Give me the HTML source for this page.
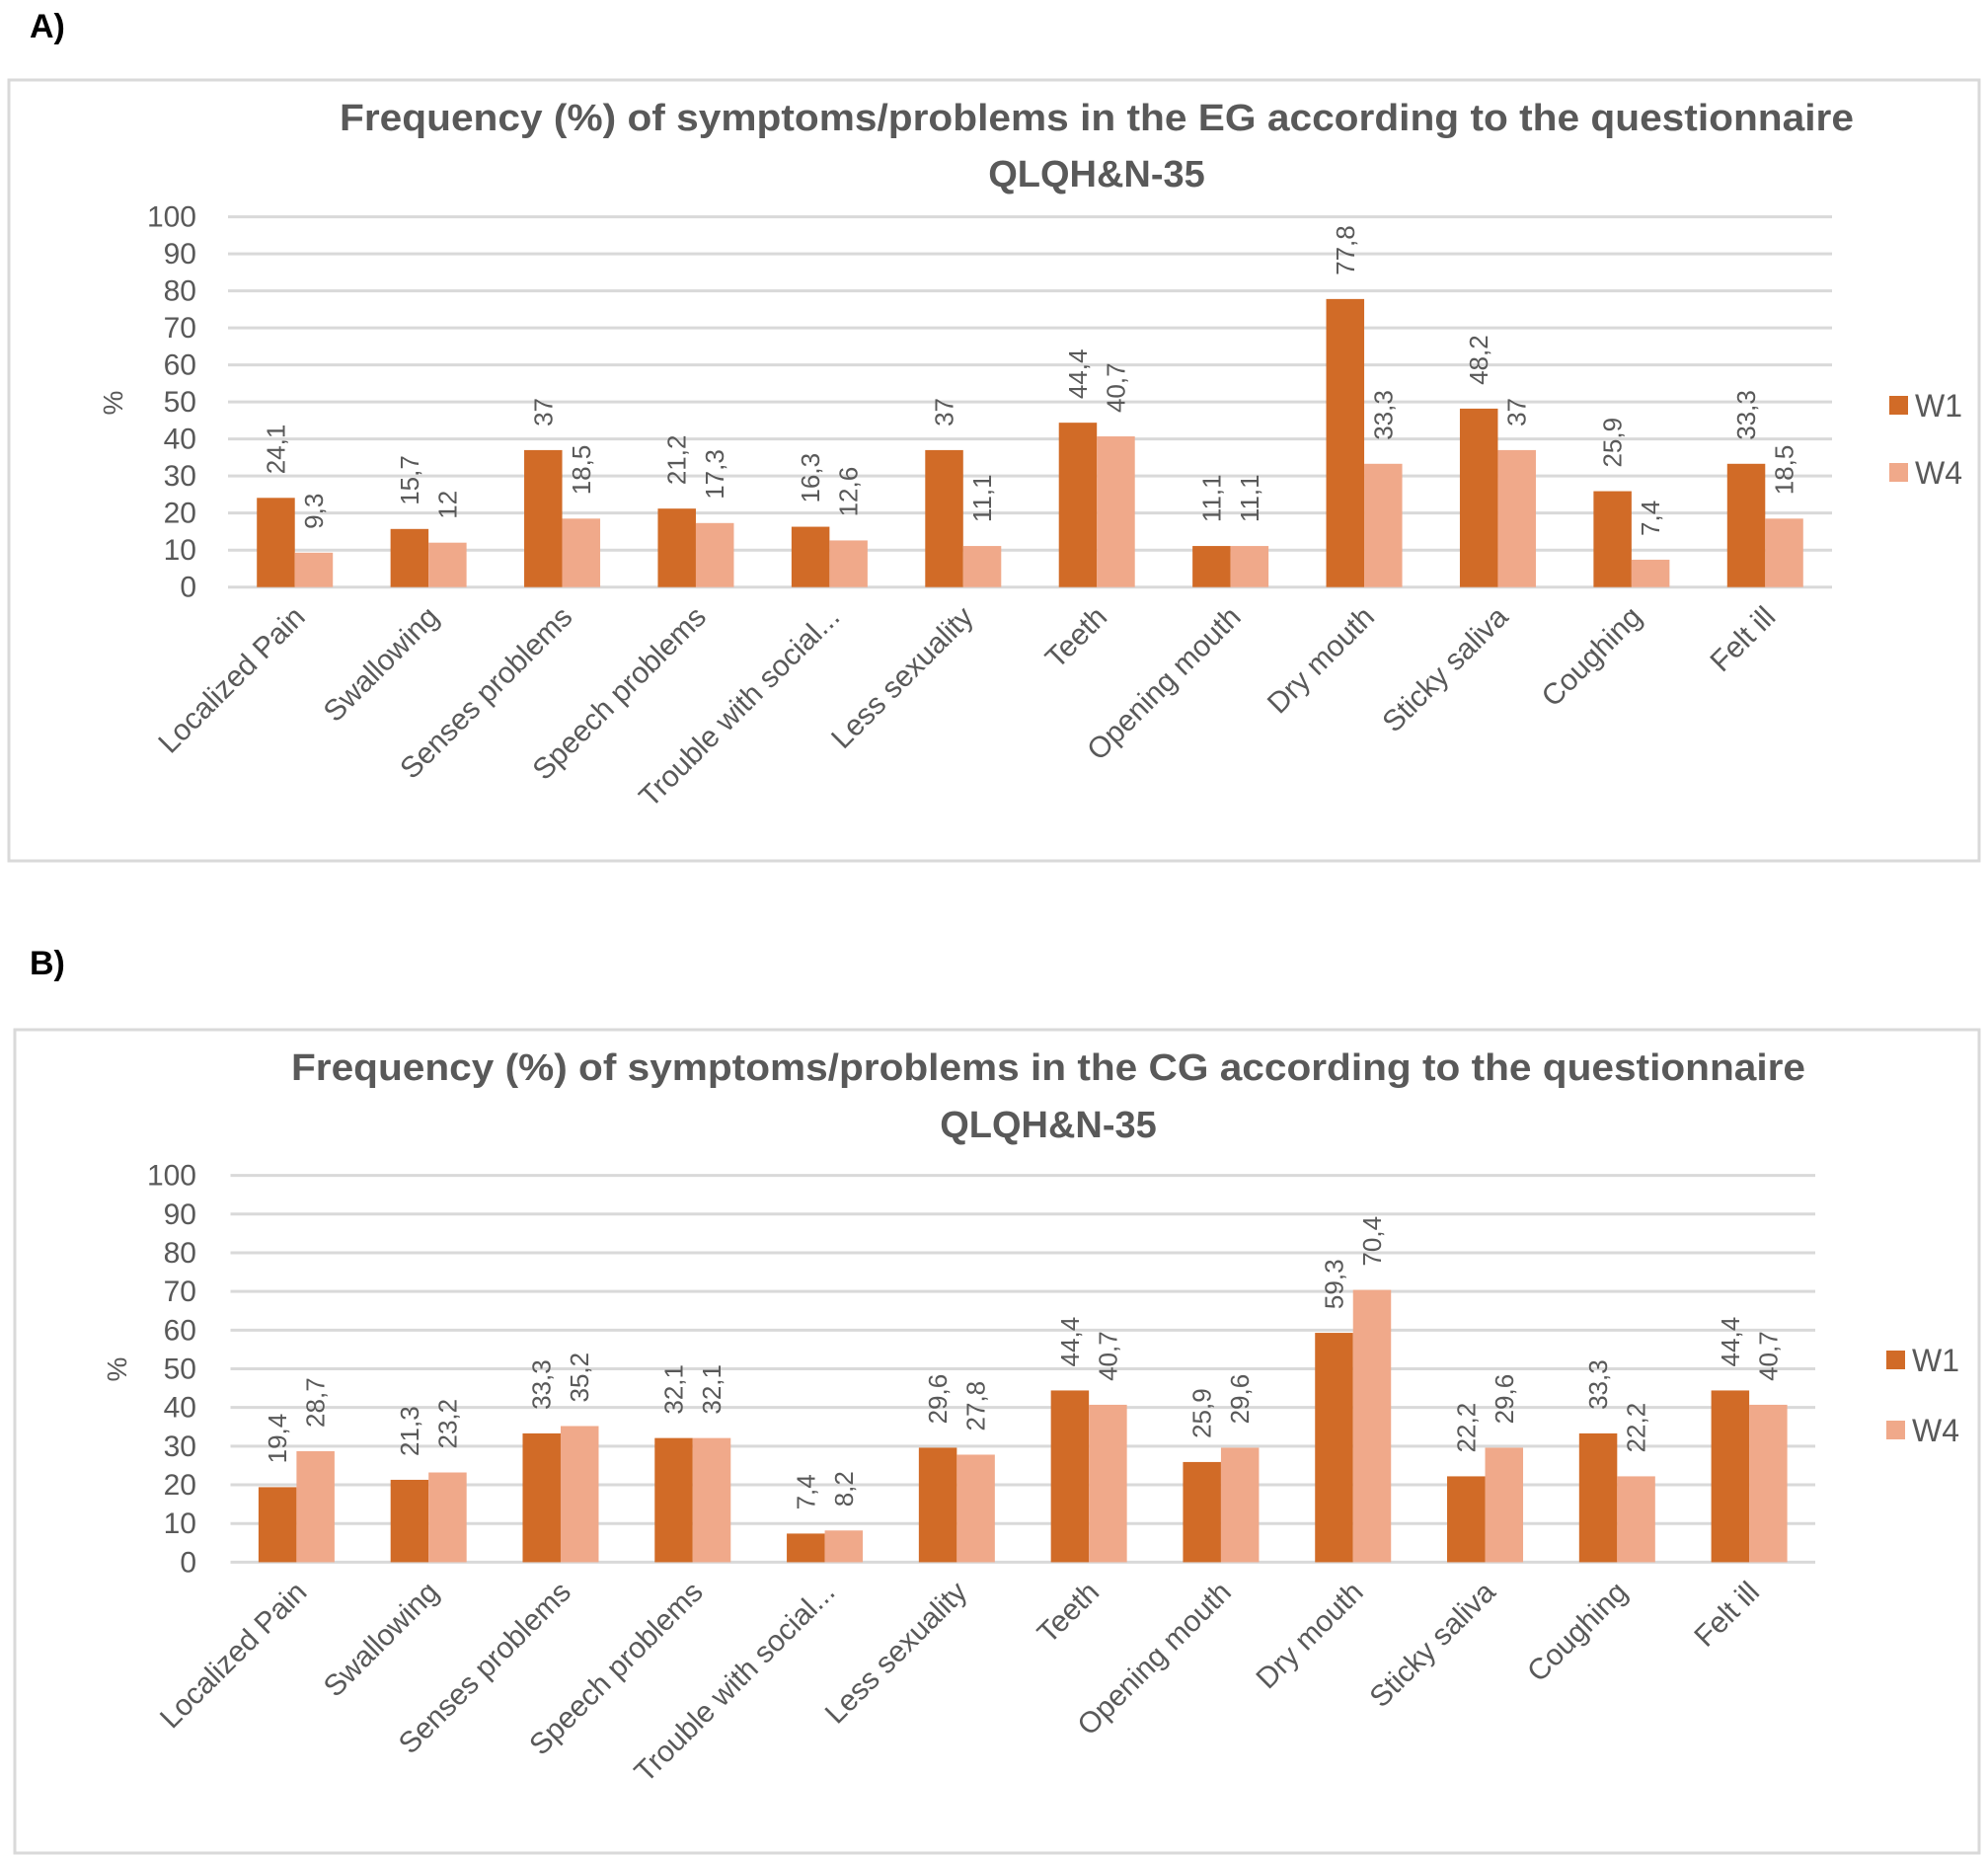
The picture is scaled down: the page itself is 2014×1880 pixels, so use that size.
<!DOCTYPE html>
<html><head><meta charset="utf-8">
<style>
html,body{margin:0;padding:0;background:#fff;}
body{width:2014px;height:1880px;position:relative;overflow:hidden;font-family:"Liberation Sans",sans-serif;}
svg{position:absolute;left:0;top:0;}
</style></head>
<body>
<svg id="root" width="2014" height="1880" viewBox="0 0 2014 1880"></svg>
<script>
const categories = ["Localized Pain","Swallowing","Senses problems","Speech problems","Trouble with social...","Less sexuality","Teeth","Opening mouth","Dry mouth","Sticky saliva","Coughing","Felt ill"];
const egW1 = [24.1,15.7,37,21.2,16.3,37,44.4,11.1,77.8,48.2,25.9,33.3];
const egW4 = [9.3,12,18.5,17.3,12.6,11.1,40.7,11.1,33.3,37,7.4,18.5];
const egW1Labels = ["24,1","15,7","37","21,2","16,3","37","44,4","11,1","77,8","48,2","25,9","33,3"];
const egW4Labels = ["9,3","12","18,5","17,3","12,6","11,1","40,7","11,1","33,3","37","7,4","18,5"];
const cgW1 = [19.4,21.3,33.3,32.1,7.4,29.6,44.4,25.9,59.3,22.2,33.3,44.4];
const cgW4 = [28.7,23.2,35.2,32.1,8.2,27.8,40.7,29.6,70.4,29.6,22.2,40.7];
const cgW1Labels = ["19,4","21,3","33,3","32,1","7,4","29,6","44,4","25,9","59,3","22,2","33,3","44,4"];
const cgW4Labels = ["28,7","23,2","35,2","32,1","8,2","27,8","40,7","29,6","70,4","29,6","22,2","40,7"];
const yTicks = [0,10,20,30,40,50,60,70,80,90,100];
const seriesNames = ["W1","W4"];

const NS = "http://www.w3.org/2000/svg";
const root = document.getElementById('root');
const C1 = "#D16B27", C2 = "#F0A98A", TXT = "#595959";
function mk(tag, attrs, parent, text){
  const e = document.createElementNS(NS, tag);
  for (const k in attrs) e.setAttribute(k, attrs[k]);
  if (text !== undefined) e.textContent = text;
  (parent || root).appendChild(e);
  return e;
}

function drawChart(cfg, w1, w4, l1, l4){
  const g = mk('g', {});
  
  
  const panel = mk('rect', {x:cfg.px, y:cfg.py, width:cfg.pw, height:cfg.ph, fill:'#fff', stroke:'#d9d9d9', 'stroke-width':3}, g);
  
  
  const t1 = mk('text', {x:cfg.tx, y:cfg.ty1, 'text-anchor':'middle', 'font-size':38, 'font-weight':'bold', fill:TXT, textLength:cfg.tl, lengthAdjust:'spacingAndGlyphs'}, g, cfg.title1);
  
  
  const t2 = mk('text', {x:cfg.tx, y:cfg.ty2, 'text-anchor':'middle', 'font-size':38, 'font-weight':'bold', fill:TXT}, g, "QLQH&N-35");
  
  

  const yScale = v => cfg.y0 + (cfg.y100 - cfg.y0) * v / 100;
  const band = (cfg.x1 - cfg.x0) / categories.length;
  const xCenter = i => cfg.x0 + band * (i + 0.5);
  const bw = 38.5;

  yTicks.forEach(t => {
    const ln = mk('line', {x1:cfg.x0, x2:cfg.x1, y1:yScale(t), y2:yScale(t), stroke:'#d9d9d9', 'stroke-width':3}, g);
    
    
    const tl = mk('text', {x:199, y:yScale(t)+10, 'text-anchor':'end', 'font-size':30, fill:TXT}, g, String(t));
    
    
  });
  const yt = mk('text', {x:0, y:0, 'text-anchor':'middle', 'font-size':28, fill:TXT, transform:`translate(${cfg.pctX},${cfg.pctY}) rotate(-90)`}, g, "%");
  
  

  categories.forEach((c, i) => {
    const cx = xCenter(i);
    [[w1, l1, C1, -bw], [w4, l4, C2, 0]].forEach(([arr, lab, col, off], s) => {
      const v = arr[i];
      const b = mk('rect', {x:cx+off, y:yScale(v), width:bw, height:cfg.y0 - yScale(v), fill:col}, g);
      
      
      const lx = cx + off + bw/2 + 9, ly = yScale(v) - 24;
      const dl = mk('text', {x:0, y:0, 'font-size':26, fill:TXT, transform:`translate(${lx},${ly}) rotate(-90)`}, g, lab[i]);
      
      
    });
    const xl = mk('text', {x:0, y:0, 'text-anchor':'end', 'font-size':30, fill:TXT, transform:`translate(${cx+12},${cfg.y0+32}) rotate(-45)`}, g, c);
    
    
  });

  seriesNames.forEach((n, s) => {
    const ly = cfg.legY[s];
    const sq = mk('rect', {x:cfg.legX, y:ly-10, width:19, height:19, fill: s ? C2 : C1}, g);
    
    
    const lt = mk('text', {x:cfg.legX+26, y:ly+11, 'font-size':32, fill:TXT}, g, n);
    
    
  });
}

const pa = mk('text', {x:30, y:38, 'font-size':34, 'font-weight':'bold', fill:'#000'}, root, "A)");


const pb = mk('text', {x:30, y:987, 'font-size':34, 'font-weight':'bold', fill:'#000'}, root, "B)");



drawChart({name:'chart-eg', px:9, py:81, pw:1996, ph:791,
  title1:"Frequency (%) of symptoms/problems in the EG according to the questionnaire",
  tx:1111, ty1:132, ty2:189, tl:1534,
  x0:231, x1:1856, y0:594.7, y100:219.6, pctX:124, pctY:408,
  legX:1914, legY:[411,479]}, egW1, egW4, egW1Labels, egW4Labels);

drawChart({name:'chart-cg', px:15, py:1043, pw:1990, ph:834,
  title1:"Frequency (%) of symptoms/problems in the CG according to the questionnaire",
  tx:1062, ty1:1094, ty2:1152, tl:1534,
  x0:233.5, x1:1839, y0:1582.4, y100:1190.6, pctX:128, pctY:1387,
  legX:1911, legY:[1378,1449]}, cgW1, cgW4, cgW1Labels, cgW4Labels);
</script>
</body></html>
